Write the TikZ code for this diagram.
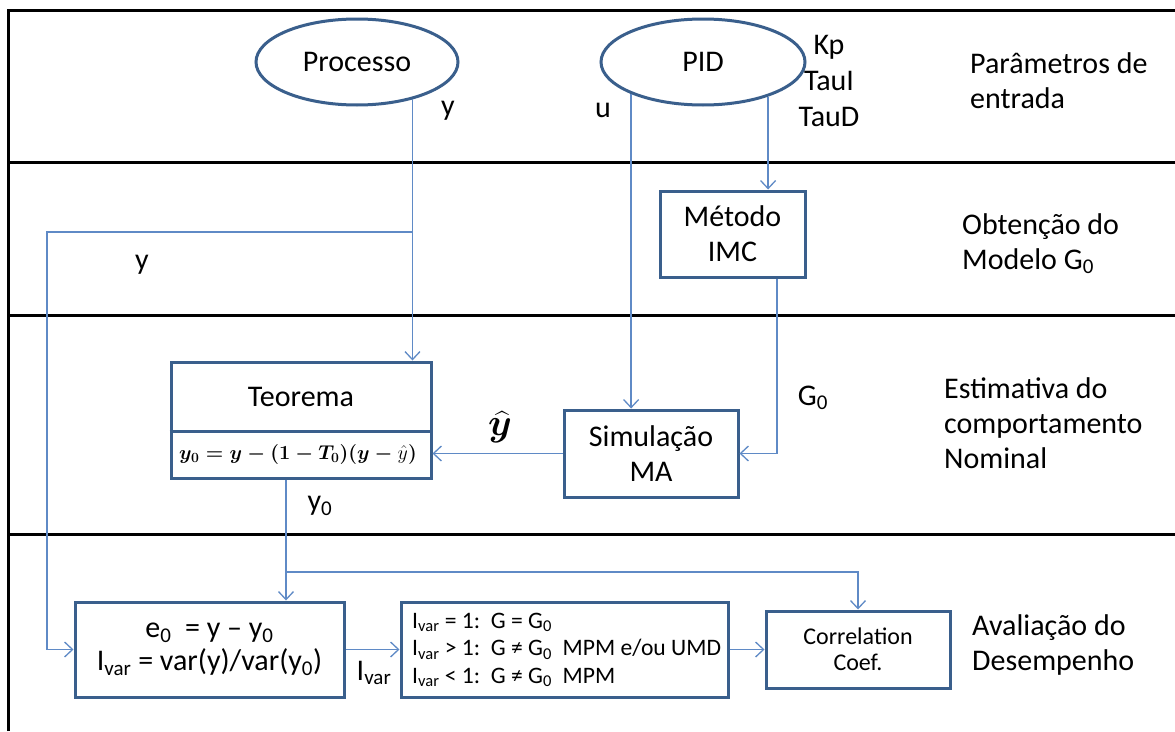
\RequirePackage{fix-cm}
\documentclass[tikz,border=0pt]{standalone}
\usepackage{amsmath}
\usepackage{fontspec}
\setmainfont{Carlito}
\usetikzlibrary{arrows.meta,shapes.geometric}
\definecolor{boxcol}{RGB}{58,95,140}
\definecolor{wirecol}{RGB}{95,138,198}
\begin{document}
\begin{tikzpicture}[x=1pt,y=-1pt,
  wire/.style={draw=wirecol, line width=1.3pt},
  arr/.style={wire, -{Straight Barb[length=8pt,width=15pt]}},
  box/.style={draw=boxcol, line width=3pt, rectangle, inner sep=0pt, align=center},
  oval/.style={draw=boxcol, line width=3pt, ellipse, inner sep=0pt},
  frame/.style={draw=black, line width=3pt},
  big/.style={font=\fontsize{30}{35}\selectfont},
  mid/.style={font=\fontsize{24}{26}\selectfont},
  small/.style={font=\fontsize{23.6}{27.5}\selectfont},
  side/.style={big, anchor=west, align=left, inner sep=0pt}]
\useasboundingbox (0,0) rectangle (1175,731);
\fill[white] (0,0) rectangle (1175,731);

% lane frame
\draw[frame] (8.5,731) -- (8.5,10) -- (1175,10);
\draw[frame] (8.5,162) -- (1175,162);
\draw[frame] (8.5,315) -- (1175,315);
\draw[frame] (8.5,534) -- (1175,534);

% lane titles
\node[side] (t1) at (970,80.5) {Parâmetros de\\entrada};
\node[side] (t2) at (962,243.5) {Obtenção do\\Modelo G\textsubscript{0}};
\node[side] (t3) at (944,423) {Estimativa do\\comportamento\\Nominal};
\node[side] (t4) at (972,644.5) {Avaliação do\\Desempenho};

% blocks
\node[oval, big, minimum width=202, minimum height=86] (proc) at (357,62) {Processo};
\node[oval, big, minimum width=204, minimum height=86] (pid) at (703,62) {PID};
\node[box, big, minimum width=145, minimum height=86] (met) at (732.5,234) {Método\\IMC};
\node[box, big, minimum width=174, minimum height=87] (sim) at (651,453.5) {Simulação\\MA};
\node[box, minimum width=260, minimum height=116] (teo) at (301,420) {};
\draw[draw=boxcol, line width=3pt] (teo.west |- 0,431) -- (teo.east |- 0,431);
\node[big] (teot) at (301,397) {Teorema};
\node[font=\fontsize{20}{22}\selectfont, inner sep=0pt] (teof) at (298,454)
  {$\boldsymbol{y_0 = y - (1 - T_0)(y - {}}\hat{y}\boldsymbol{)}$};
\node[box, font=\fontsize{30}{33}\selectfont, minimum width=269, minimum height=95] (e0) at (209.5,649.5)
  {e\textsubscript{0}\ \ = y – y\textsubscript{0}\\I\textsubscript{var} = var(y)/var(y\textsubscript{0})};
\node[box, minimum width=327, minimum height=95] (ivr) at (564.5,649.5) {};
\node[small, anchor=west, align=left, inner sep=0pt] (ivrt) at (412,650)
  {I\textsubscript{var} = 1:\ \ G = G\textsubscript{0}\\
   I\textsubscript{var} > 1:\ \ G ≠ G\textsubscript{0}\ \ MPM e/ou UMD\\
   I\textsubscript{var} < 1:\ \ G ≠ G\textsubscript{0}\ \ MPM};
\node[box, mid, minimum width=184, minimum height=77] (cor) at (858,649.5) {Correlation\\Coef.};

% signal labels
\node[big, align=center] (gains) at (829,81) {Kp\\[1pt]TauI\\[1pt]TauD};
\node[big] (ly1) at (448,111) {y};
\node[big] (lu) at (603,110) {u};
\node[big] (ly2) at (142,265) {y};
\node[font=\fontsize{38}{42}\selectfont, inner sep=0pt] (lyh) at (500,427) {$\boldsymbol{\widehat{y}}$};
\node[big] (lg0) at (813,398) {G\textsubscript{0}};
\node[big] (ly0) at (320,506) {y\textsubscript{0}};
\node[big] (liv) at (374,673) {I\textsubscript{var}};

% connectors
\coordinate (ycorner) at (47,232);
\draw[arr] (proc.-34) -- (proc.-34 |- teo.north);
\draw[arr] (proc.-34 |- ycorner) -- (ycorner) |- (e0.west);
\draw[arr] (pid.-156.5) -- (pid.-156.5 |- sim.north);
\draw[arr] (pid.-28) -- (pid.-28 |- met.north);
\draw[arr] ([xshift=44.5pt]met.south) |- (sim.east);
\draw[arr] (sim.west) -- (sim.west -| teo.east);
\coordinate (y0tap) at ([xshift=-15pt]teo.south);
\draw[arr] (y0tap) -- (y0tap |- e0.north);
\draw[arr] (y0tap |- 0,572) -| (cor.north);
\draw[arr] (e0.east) -- (ivr.west);
\draw[arr] (ivr.east) -- (cor.west);
\end{tikzpicture}
\end{document}
